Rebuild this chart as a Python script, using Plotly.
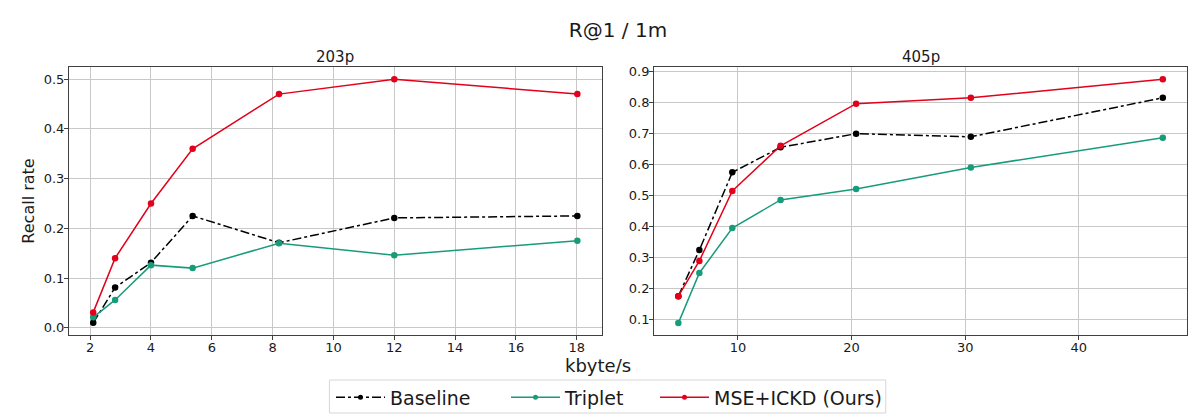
import plotly.graph_objects as go

# ---- data ----
series_names = ["Baseline", "Triplet", "MSE+ICKD (Ours)"]

x_203 = [2.1, 2.82, 4.0, 5.37, 8.21, 12.0, 18.02]
baseline_203 = [0.01, 0.081, 0.131, 0.225, 0.171, 0.221, 0.225]
triplet_203 = [0.021, 0.056, 0.126, 0.12, 0.17, 0.146, 0.175]
mse_203 = [0.031, 0.14, 0.25, 0.36, 0.47, 0.5, 0.47]

x_405 = [4.75, 6.6, 9.5, 13.75, 20.4, 30.5, 47.4]
baseline_405 = [0.175, 0.324, 0.575, 0.656, 0.70, 0.69, 0.816]
triplet_405 = [0.088, 0.25, 0.395, 0.486, 0.521, 0.591, 0.687]
mse_405 = [0.175, 0.289, 0.515, 0.661, 0.797, 0.816, 0.876]

x_ticks_203 = [2, 4, 6, 8, 10, 12, 14, 16, 18]
y_ticks_203 = [0.0, 0.1, 0.2, 0.3, 0.4, 0.5]
x_ticks_405 = [10, 20, 30, 40]
y_ticks_405 = [0.1, 0.2, 0.3, 0.4, 0.5, 0.6, 0.7, 0.8, 0.9]

colors = ["#000000", "#179c7a", "#e3001b"]
dashes = ["dashdot", "solid", "solid"]
legend_ids = ["legend", "legend2", "legend3"]

FONT = "DejaVu Sans"
TXT = "#1a1a1a"

# page body margin offsets the figure by 8px; lay out in window pixels
OFF = 8
WIN_W, WIN_H = 1196, 419
W, H = WIN_W - OFF, WIN_H - OFF

AX_L, AX_R, AX_T, AX_B = 69.0, 1187.3, 67.0, 335.0  # window px of the plot area
L_PX = AX_L - OFF
R_PX = WIN_W - AX_R
T_PX = AX_T - OFF
B_PX = WIN_H - AX_B
PW = AX_R - AX_L
PH = AX_B - AX_T


def px_x(p):
    return (p - AX_L) / PW


def px_y(p):
    return (AX_B - p) / PH


def cx(p):
    return (p - OFF) / W


def cy(p):
    return 1 - (p - OFF) / H


fig = go.Figure()

panels = [
    ("x", "y", x_203, [baseline_203, triplet_203, mse_203]),
    ("x2", "y2", x_405, [baseline_405, triplet_405, mse_405]),
]
for xa, ya, xs, ys_list in panels:
    for name, ys, c, d in zip(series_names, ys_list, colors, dashes):
        fig.add_trace(go.Scatter(
            x=xs, y=ys, name=name, mode="lines+markers",
            line=dict(color=c, width=1.5, dash=d),
            marker=dict(color=c, size=6.5, symbol="circle"),
            xaxis=xa, yaxis=ya, showlegend=False,
        ))

# legend-only entries (smaller markers, like the reference legend)
for name, c, d, lg in zip(series_names, colors, dashes, legend_ids):
    fig.add_trace(go.Scatter(
        x=[None], y=[None], name=name, mode="lines+markers",
        line=dict(color=c, width=1.5, dash=d),
        marker=dict(color=c, size=5, symbol="circle"),
        showlegend=True, legend=lg, hoverinfo="skip",
    ))

axis_common = dict(
    showgrid=True, gridcolor="#c8c8c8", gridwidth=0.8,
    showline=True, linecolor="#404040", linewidth=1, mirror=True,
    ticks="outside", ticklen=4, tickcolor="#404040",
    tickfont=dict(family=FONT, size=13, color=TXT),
    zeroline=False,
)
xaxis_common = dict(ticklabelstandoff=-4, **axis_common)
yaxis_common = dict(ticklabelstandoff=-3, **axis_common)

legend_common = dict(
    orientation="h", xref="container", yref="container", xanchor="left", yanchor="top",
    font=dict(family=FONT, size=19, color=TXT), bgcolor="rgba(0,0,0,0)",
    borderwidth=0, itemwidth=49,
)
legend_left_px = [331, 506, 655]
legend_top_px = 378.5

fig.update_layout(
    width=W, height=H,
    margin=dict(l=L_PX, r=R_PX, t=T_PX, b=B_PX),
    paper_bgcolor="white", plot_bgcolor="white",
    font=dict(family=FONT, color=TXT),
    title=dict(text="R@1 / 1m", x=cx(618), xanchor="center", xref="container",
               y=cy(30), yanchor="middle", yref="container",
               font=dict(family=FONT, size=20, color=TXT)),
    xaxis=dict(domain=[0, px_x(601.7)], range=[1.304, 18.816], tickvals=x_ticks_203, **xaxis_common),
    yaxis=dict(domain=[0, 1], range=[-0.0145, 0.5245], tickvals=y_ticks_203, tickformat=".1f",
               title=dict(text="Recall rate", font=dict(family=FONT, size=16, color=TXT), standoff=5),
               **yaxis_common),
    xaxis2=dict(domain=[px_x(654.3), 1], range=[2.62, 49.53], tickvals=x_ticks_405, anchor="y2",
                **xaxis_common),
    yaxis2=dict(domain=[0, 1], range=[0.0495, 0.9155], tickvals=y_ticks_405, tickformat=".1f",
                anchor="x2", **yaxis_common),
    legend=dict(x=cx(legend_left_px[0]), y=cy(legend_top_px), **legend_common),
    legend2=dict(x=cx(legend_left_px[1]), y=cy(legend_top_px), **legend_common),
    legend3=dict(x=cx(legend_left_px[2]), y=cy(legend_top_px), **legend_common),
    shapes=[
        dict(type="rect", xref="paper", yref="paper",
             x0=px_x(329.5), x1=px_x(886), y0=px_y(380), y1=px_y(413),
             line=dict(color="#d6d6d6", width=1), fillcolor="white", layer="below"),
    ],
    annotations=[
        dict(text="203p", x=(px_x(AX_L) + px_x(601.7)) / 2, y=px_y(57), xref="paper", yref="paper",
             showarrow=False, xanchor="center", yanchor="middle",
             font=dict(family=FONT, size=15, color=TXT)),
        dict(text="405p", x=(px_x(654.3) + 1) / 2, y=px_y(57), xref="paper", yref="paper",
             showarrow=False, xanchor="center", yanchor="middle",
             font=dict(family=FONT, size=15, color=TXT)),
        dict(text="kbyte/s", x=px_x(598), y=px_y(365), xref="paper", yref="paper", showarrow=False,
             xanchor="center", yanchor="middle", font=dict(family=FONT, size=18, color=TXT)),
    ],
)

fig.write_html("out.html")
